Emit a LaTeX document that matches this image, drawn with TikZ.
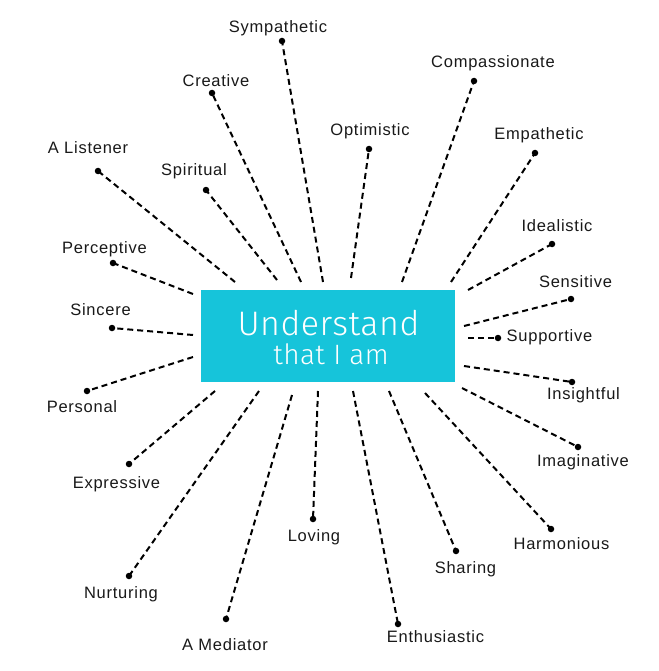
\documentclass[tikz,border=0pt]{standalone}
\usepackage{fontspec}
\setmainfont{Liberation Sans}[LetterSpace=4.5]
\newfontfamily\lightfont{Fira Sans Light}[LetterSpace=1.5]
\definecolor{boxcyan}{RGB}{22,196,218}
\definecolor{inkgray}{RGB}{25,25,25}
\begin{document}
\begin{tikzpicture}[x=1pt,y=-1pt,
  spoke/.style={draw=black, line width=2pt, dash pattern=on 6pt off 4pt},
  dot/.style={circle, fill=black, inner sep=0pt, minimum size=6.5pt},
  word/.style={font=\fontsize{16.5}{16.5}\selectfont, text=inkgray, inner sep=0pt, text height=11.8pt, text depth=0pt},
  corebox/.style={fill=boxcyan, draw=none, inner sep=0pt, minimum width=254pt, minimum height=92pt},
  bigtext/.style={font=\lightfont\fontsize{34}{34}\selectfont, text=white, inner sep=0pt, anchor=base},
  smalltext/.style={font=\lightfont\fontsize{28}{28}\selectfont, text=white, inner sep=0pt, anchor=base}]
\useasboundingbox (0,0) rectangle (658,671);
\fill[white] (0,0) rectangle (658,671);
\node[corebox] (core) at (328,336) {};
\node[bigtext] (t1) at (328.5,335) {Understand};
\node[smalltext] (t2) at (331,364) {that I am};
\foreach \n/\ix/\iy/\dx/\dy/\lx/\ly/\t in {
  sym/323/282/282/41/278/27/Sympathetic,
  cre/301/282/212/93/216/80.5/Creative,
  lis/235/282/98/171/88/148/A Listener,
  spi/277/280/206/190/194/170/Spiritual,
  opt/351/278/369/149/370/130/Optimistic,
  com/402/282/474/81/493/62/Compassionate,
  emp/451/282/535/153/539/134/Empathetic,
  ide/468/290/552/244/557/226/Idealistic,
  sen/464/326/571/299/575.5/282/Sensitive,
  sup/468/338/498/338/549.5/336/Supportive,
  ins/464/366/572/382/583.5/394/Insightful,
  ima/462/388/578/447/583/461/Imaginative,
  har/425/393/551/529/561.5/544/Harmonious,
  sha/389/391/456/551/465.5/568/Sharing,
  ent/353/391/398/624/435.5/637/Enthusiastic,
  lov/318/391/313/519/314/536/Loving,
  med/292/395/226/619/225/644.5/A Mediator,
  nur/259/391/129/576/121/593/Nurturing,
  exp/215/391/129/464/116.5/483/Expressive,
  per/193/357/87/391/82/406.5/Personal,
  sin/193/335/112/328/100.5/310/Sincere,
  pcp/193/294/113/263/104.5/247.5/Perceptive}
{
  \coordinate (i\n) at (\ix,\iy);
  \node[dot] (d\n) at (\dx,\dy) {};
  \node[word] (l\n) at (\lx,\ly) {\t};
  \draw[spoke] (i\n) -- (d\n.center);
}
\end{tikzpicture}
\end{document}
